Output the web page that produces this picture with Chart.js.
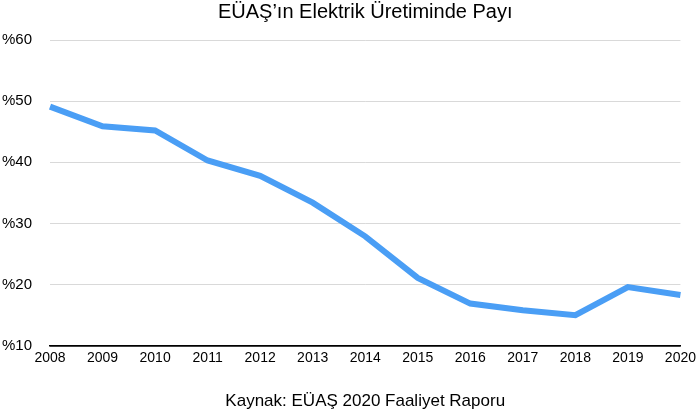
<!DOCTYPE html>
<html>
<head>
<meta charset="utf-8">
<script src="https://cdn.jsdelivr.net/npm/chart.js@4/dist/chart.umd.min.js"></script>
<style>
  html, body { margin: 0; padding: 0; background: #fff; }
  #wrap { width: 700px; height: 419px; }
</style>
</head>
<body>
<div id="wrap"><canvas id="myChart"></canvas></div>
<script>
// les données
const years = ['2008', '2009', '2010', '2011', '2012', '2013', '2014', '2015', '2016', '2017', '2018', '2019', '2020'];
const euasShare = [49.1, 45.9, 45.2, 40.3, 37.8, 33.4, 27.9, 21.1, 16.9, 15.8, 15.0, 19.6, 18.3];
const yTicks = [10, 20, 30, 40, 50, 60];

const fontName = '"Liberation Sans", Arial, Helvetica, sans-serif';

// Graphique
var ctx = document.getElementById('myChart').getContext('2d');
var myChart = new Chart(ctx, {
    type: 'line',
    data: {
        labels: years,
        datasets: [{
            label: 'EÜAŞ payı',
            data: euasShare,
            borderColor: 'rgb(74, 158, 245)',
            backgroundColor: 'rgb(74, 158, 245)',
            borderWidth: 6,
            pointRadius: 0,
            tension: 0,
            borderJoinStyle: 'miter'
        }]
    },
    options: {
        responsive: true,
        maintainAspectRatio: false,
        animation: false,
        layout: {
            padding: { left: 2, right: 18, top: 0, bottom: 7 }
        },
        plugins: {
            legend: { display: false },
            tooltip: { enabled: false },
            title: {
                display: true,
                fullSize: false,
                text: 'EÜAŞ’ın Elektrik Üretiminde Payı',
                color: '#000',
                font: { family: fontName, size: 20, weight: 'normal' },
                padding: { top: 0, bottom: 16 }
            }
        },
        scales: {
            x: {
                offset: false,
                grid: { display: false, drawTicks: false },
                border: { display: true, color: '#000', width: 1.5 },
                ticks: {
                    color: '#000',
                    font: { family: fontName, size: 14 },
                    padding: 4,
                    maxRotation: 0,
                    autoSkip: false
                },
                title: {
                    display: true,
                    text: 'Kaynak: EÜAŞ 2020 Faaliyet Raporu',
                    color: '#000',
                    font: { family: fontName, size: 17 },
                    padding: { top: 21, bottom: 0 }
                }
            },
            y: {
                min: yTicks[0],
                max: yTicks[yTicks.length - 1],
                afterBuildTicks: function(axis) {
                    axis.ticks = yTicks.map(v => ({ value: v }));
                },
                grid: {
                    drawTicks: false,
                    color: function(c) {
                        return c.tick.value === 10 ? '#000' : '#d9d9d9';
                    },
                    lineWidth: function(c) {
                        return c.tick.value === 10 ? 1.5 : 1;
                    }
                },
                border: { display: false },
                ticks: {
                    color: '#000',
                    crossAlign: 'far',
                    padding: 9,
                    font: { family: fontName, size: 15 },
                    callback: function(value) {
                        return '%' + value;
                    }
                }
            }
        }
    }
});
</script>
</body>
</html>
